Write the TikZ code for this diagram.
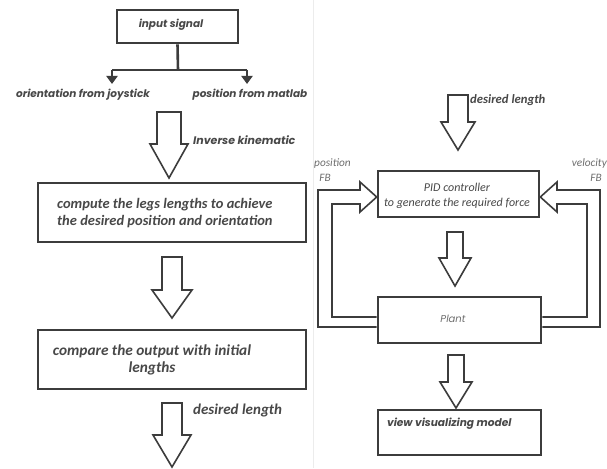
\documentclass[tikz,border=0pt]{standalone}
\usepackage{fontspec}
\setmainfont{Carlito}
\newfontfamily\geo{Poppins}
\usetikzlibrary{arrows.meta}
\definecolor{ink}{HTML}{3C3C3C}
\definecolor{txt}{HTML}{484848}
\definecolor{lite}{HTML}{6E6E6E}
\tikzset{
  box/.style={draw=ink, line width=2.6pt, rectangle, inner sep=0pt},
  blk/.style={draw=ink, line width=1.6pt, fill=white, line join=miter},
  lbl/.style={text=txt, font=\fontsize{10.5}{12}\selectfont\geo\bfseries\itshape, inner sep=0pt},
  cal/.style={text=txt, font=\fontsize{14.5}{17}\selectfont\bfseries\itshape, inner sep=0pt},
  thin/.style={text=lite, font=\fontsize{11.3}{15}\selectfont\itshape, inner sep=0pt},
}
% \blockarrow{cx}{top}{headstart}{tip}{shafthalf}{headhalf}
\newcommand{\blockarrow}[6]{%
  \draw[blk] (#1-#5,#2) -- (#1-#5,#3) -- (#1-#6,#3) -- (#1,#4) -- (#1+#6,#3) -- (#1+#5,#3) -- (#1+#5,#2) -- cycle;}
\begin{document}
\begin{tikzpicture}[x=1pt,y=-1pt]
\useasboundingbox (0,0) rectangle (607,468);
\fill[white] (0,0) rectangle (607,468);
\draw[gray!15, line width=0.8pt] (313,0) -- (313,468);

% ---------- left column ----------
\node[box, minimum width=121pt, minimum height=33pt] (inp) at (177.5,26.5) {};
\node[lbl] (inpt) at (171,25) {input signal};
\coordinate (split) at (178,70);
\coordinate (la) at (112,70);
\coordinate (ra) at (247,70);
\coordinate (lae) at (112,84);
\coordinate (rae) at (247,84);
\draw[ink, line width=2.6pt] (inp.south) -- (split);
\draw[ink, line width=2.6pt] (la) -- (ra);
\draw[ink, line width=2.6pt, -{Triangle[width=11pt,length=8pt]}] (la) -- (lae);
\draw[ink, line width=2.6pt, -{Triangle[width=11pt,length=8pt]}] (ra) -- (rae);
\node[lbl] (ori) at (83,95) {orientation from joystick};
\node[lbl] (pos) at (250,95) {position from matlab};

\blockarrow{169}{112}{144}{178}{12}{19}
\node[lbl, anchor=west, font=\fontsize{11}{12}\selectfont\geo\bfseries\itshape] (ik) at (193,140) {Inverse kinematic};

\node[box, minimum width=268pt, minimum height=59pt] (comp) at (172,212.5) {};
\node[cal, anchor=west, align=left] (compt) at (57,213) {compute the legs lengths to achieve\\the desired position and orientation};

\blockarrow{172}{257}{290}{318}{10}{20}

\node[box, minimum width=268pt, minimum height=59pt] (cmpb) at (172,359.5) {};
\node[cal, align=center, font=\fontsize{15.3}{17}\selectfont\bfseries\itshape] (cmpt) at (152,360) {compare the output with initial\\lengths};

\blockarrow{172}{403}{435}{467}{10}{19}
\node[cal, anchor=west, font=\fontsize{15}{17}\selectfont\bfseries\itshape] (dl1) at (193,410) {desired length};

% ---------- right column ----------
\blockarrow{458}{95}{122}{150}{10}{17}
\node[cal, anchor=west, font=\fontsize{12.7}{13}\selectfont\bfseries\itshape] (dl2) at (470,100) {desired length};

\node[box, minimum width=161pt, minimum height=46pt] (pid) at (458.5,194) {};
\node[text=txt, font=\fontsize{12}{15}\selectfont\itshape, align=center, inner sep=0pt] (pidt) at (457,196) {PID controller\\to generate the required force};

\node[thin, align=left, anchor=west] (pfb) at (314,170) {position\\\ \ FB};
\node[thin, align=right, anchor=east] (vfb) at (607,170) {velocity\\FB\ \ \ };

\blockarrow{455}{232}{258}{286}{8}{16}

\node[box, minimum width=163pt, minimum height=46pt] (plant) at (459.5,320) {};
\node[text=lite, font=\fontsize{10}{12}\selectfont\geo\itshape, inner sep=0pt] (plt) at (453,319) {Plant};

% feedback arrows
\draw[blk, fill=none] (plant.west |- 0,327) -- (318,327) -- (318,190) -- (360,190) -- (360,182) -- (pid.west |- 0,197) -- (360,212) -- (360,204) -- (332,204) -- (332,317) -- (plant.west |- 0,317);
\draw[blk, fill=none] (plant.east |- 0,327) -- (600,327) -- (600,190) -- (557,190) -- (557,182) -- (pid.east |- 0,197) -- (557,212) -- (557,204) -- (587,204) -- (587,317) -- (plant.east |- 0,317);

\blockarrow{456}{355}{382}{408}{8}{16}

\node[box, minimum width=163pt, minimum height=45pt] (view) at (459.5,432.5) {};
\node[text=txt, font=\fontsize{10.6}{12}\selectfont\geo\bfseries\itshape, anchor=west, inner sep=0pt] (viewt) at (387,424) {view visualizing model};
\end{tikzpicture}
\end{document}
